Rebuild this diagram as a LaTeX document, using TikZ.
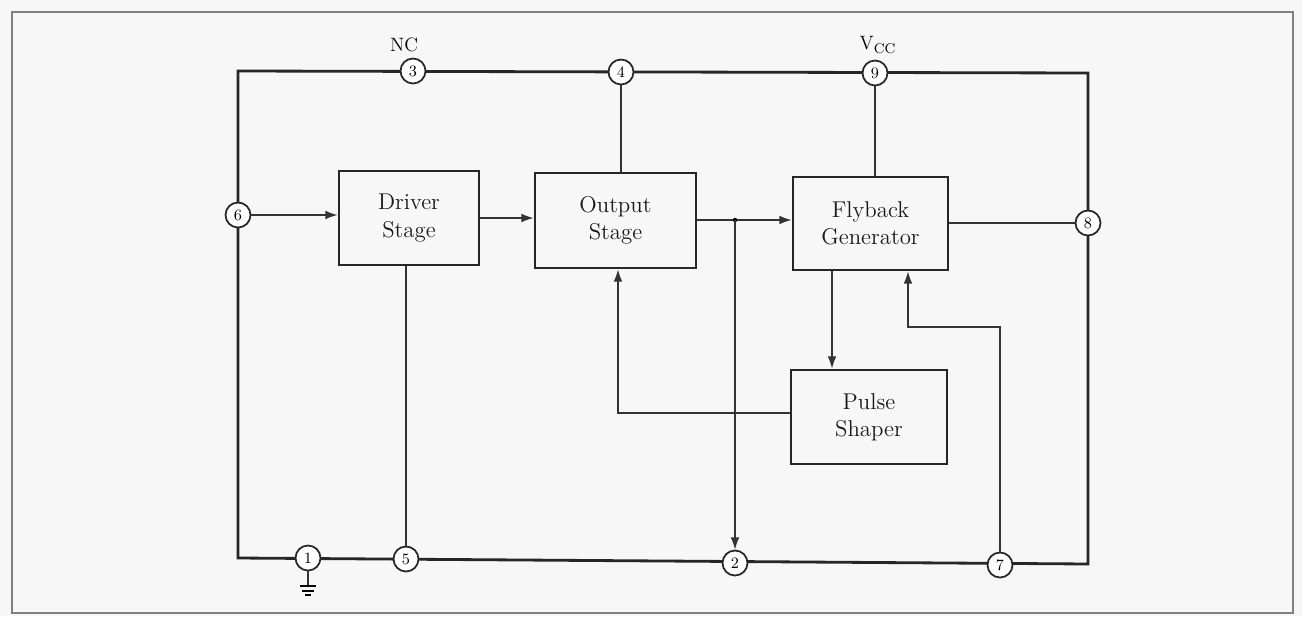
\documentclass[tikz,border=0pt]{standalone}
\usetikzlibrary{arrows.meta}
\begin{document}
\begin{tikzpicture}[x=0.02cm,y=-0.02cm,
  frame/.style={line width=1.6pt,draw=black!85},
  blockbox/.style={draw=black!85,line width=1.6pt,minimum width=0pt,minimum height=0pt,align=center,font=\fontsize{13}{15.5}\selectfont,text=black!90},
  pin/.style={circle,draw=black!85,line width=1pt,fill=white,minimum size=0.5cm,inner sep=0pt,font=\fontsize{9}{10}\selectfont},
  wire/.style={line width=0.8pt,draw=black!80},
  arr/.style={wire,-{Latex[length=7pt,width=5pt]}},
  lbl/.style={font=\fontsize{11}{12}\selectfont,text=black}]
\fill[black!3] (0,0) rectangle (1302,616);
\useasboundingbox (0,0) rectangle (1302,616);
\draw[black!50,line width=1pt] (12,12) rectangle (1293,613);
% outer frame
\coordinate (tl) at (238,71);
\coordinate (tr) at (1088,73);
\coordinate (br) at (1088,564);
\coordinate (bl) at (238,558);
\draw[frame] (tl) -- (tr) -- (br) -- (bl) -- cycle;
% pins
\node[pin] (p3) at (413,71) {3};
\node[pin] (p4) at (621,72) {4};
\node[pin] (p9) at (875,73) {9};
\node[pin] (p6) at (238,215) {6};
\node[pin] (p8) at (1088,223) {8};
\node[pin] (p1) at (308,558) {1};
\node[pin] (p5) at (406,559) {5};
\node[pin] (p2) at (735,563) {2};
\node[pin] (p7) at (1000,565) {7};
\node[lbl] (nc) at (404,45) {NC};
\node[lbl] (vcc) at (878,45) {V\textsubscript{\fontsize{8}{9}\selectfont CC}};
% blocks
\node[blockbox,minimum width=2.8cm,minimum height=1.88cm] (drv) at (409,218) {Driver\\Stage};
\node[blockbox,minimum width=3.22cm,minimum height=1.9cm] (out) at (615.5,220.5) {Output\\Stage};
\node[blockbox,minimum width=3.1cm,minimum height=1.86cm] (fly) at (870.5,223.5) {Flyback\\Generator};
\node[blockbox,minimum width=3.12cm,minimum height=1.88cm] (pls) at (869,417) {Pulse\\Shaper};
% connections
\draw[arr] (p6) -- (drv.west |- p6);
\draw[arr] (drv.east |- 0,218) -- (out.west |- 0,218);
\coordinate (j) at (735,220);
\draw[wire] (out.east |- j) -- (j);
\draw[arr] (j) -- (fly.west |- j);
\fill (j) circle (2.2);
\draw[arr] (j) -- (p2);
\draw[wire] (p4) -- (out.north -| p4);
\draw[wire] (p9) -- (fly.north -| p9);
\draw[wire] (fly.east |- p8) -- (p8);
\draw[wire] (drv.south -| p5) -- (p5);
\draw[arr] (fly.south -| 832,0) -- (pls.north -| 832,0);
\coordinate (f1) at (618,413);
\draw[arr] (pls.west |- f1) -- (f1) -- (out.south -| f1);
\coordinate (g1) at (1000,327);
\coordinate (g2) at (908,327);
\draw[arr] (p7) -- (g1) -- (g2) -- (fly.south -| g2);
% ground
\coordinate (gnd) at (308,586);
\draw[wire] (p1) -- (gnd);
\draw[line width=1.6pt] (300,586) -- (316,586);
\draw[line width=0.6pt] (302,591) -- (314,591);
\draw[line width=0.6pt] (305,595) -- (311,595);
\end{tikzpicture}
\end{document}
